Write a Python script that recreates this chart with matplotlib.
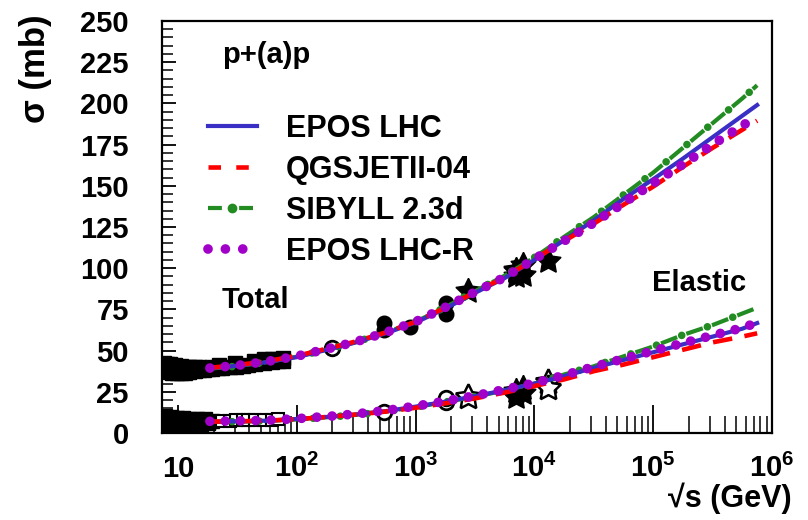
import matplotlib
matplotlib.use('Agg')
import matplotlib.pyplot as plt
from matplotlib.lines import Line2D
from matplotlib.ticker import FixedLocator, NullFormatter

plt.rcParams['lines.scale_dashes'] = False
plt.rcParams['font.family'] = ['Liberation Sans', 'DejaVu Sans']
plt.rcParams['font.weight'] = 'bold'
plt.rcParams['mathtext.fontset'] = 'custom'
plt.rcParams['mathtext.rm'] = 'Liberation Sans:bold'
plt.rcParams['mathtext.bf'] = 'Liberation Sans:bold'
plt.rcParams['mathtext.it'] = 'Liberation Sans:bold'

# ---------------- model curves ----------------
sqrt_s_model = [18.6, 31.6, 56.2, 100, 200, 316, 562, 1000, 1778, 3162, 5623,
                10000, 17783, 31623, 56234, 100000, 177828, 316228, 562341, 750000]
epos_tot = [39.3, 40.8, 43.0, 46.0, 51.3, 55.0, 60.5, 67.0, 75.5, 85.0, 94.0,
            105.0, 117.0, 129.0, 142.0, 154.0, 166.5, 179.5, 192.5, 199.0]
qgs_tot = [39.6, 41.2, 43.6, 46.8, 52.0, 55.6, 61.0, 67.5, 76.0, 85.5, 94.5,
           105.5, 116.5, 127.0, 138.5, 149.5, 161.5, 173.0, 184.0, 189.5]
sib_tot = [39.0, 40.6, 43.0, 46.3, 51.5, 55.2, 61.0, 67.5, 76.3, 86.0, 95.5,
           106.5, 119.0, 131.0, 144.5, 158.0, 173.0, 188.0, 203.0, 211.0]
eposr_tot = [39.4, 41.0, 43.4, 46.6, 51.8, 55.4, 61.0, 67.5, 76.2, 85.5, 94.5,
             105.5, 116.5, 127.5, 139.5, 151.5, 163.0, 175.0, 186.5, 192.0]

epos_el = [6.9, 7.1, 7.5, 8.5, 10.0, 11.3, 13.3, 16.0, 19.0, 22.3, 26.0,
           30.0, 34.5, 39.5, 44.3, 49.0, 53.8, 58.5, 63.3, 66.7]
qgs_el = [6.9, 7.1, 7.5, 8.4, 10.0, 11.2, 13.0, 15.3, 18.0, 21.0, 24.5,
          28.5, 32.5, 37.5, 41.5, 46.0, 50.5, 55.0, 58.5, 60.5]
sib_el = [6.7, 6.9, 7.3, 8.2, 9.8, 11.0, 13.0, 15.7, 18.8, 22.0, 25.8,
          30.0, 35.5, 40.5, 46.5, 52.5, 59.5, 65.5, 72.5, 76.0]
eposr_el = [7.1, 7.3, 7.7, 8.7, 10.3, 11.6, 13.6, 16.3, 19.3, 22.6, 26.4,
            30.3, 35.0, 40.2, 45.0, 49.8, 54.5, 59.2, 63.8, 67.0]

# ---------------- data points ----------------
# total, filled squares (low energy pp and pbar-p)
tot_sq_x = [7.6, 8.0, 8.5, 9.0, 9.8, 10.6, 11.5, 12.3, 13.8, 15.1, 16.6, 18.0,
            19.4, 21.7, 23.5, 27.4, 30.6, 35.0, 38.8, 44.7, 52.8, 62.5, 70.0, 76.0]
tot_sq_y = [38.0, 37.5, 37.0, 36.7, 36.4, 36.4, 36.6, 37.0, 37.5, 38.0, 38.4, 38.7,
            38.9, 39.2, 39.5, 40.0, 40.3, 40.8, 41.2, 41.8, 42.4, 43.0, 43.5, 43.8]
tot_sq2_x = [7.6, 8.1, 8.6, 9.5, 10.6, 11.5, 12.3, 13.8, 15.1, 19.4, 22.0, 30.4,
             44.0, 52.6, 62.3, 70.0, 76.0]
tot_sq2_y = [42.5, 42.0, 41.6, 41.0, 40.5, 40.2, 40.0, 39.8, 39.8, 40.3, 41.0, 42.3,
             43.8, 44.6, 45.0, 45.2, 45.4]
# elastic, filled squares
el_sq_x = [7.6, 8.0, 8.5, 9.0, 9.8, 10.6, 11.5, 12.3, 13.8, 15.1, 16.6, 18.0,
           19.4, 7.8, 8.8, 9.9, 11.0, 12.6, 14.5, 16.8]
el_sq_y = [8.0, 7.8, 7.6, 7.5, 7.3, 7.2, 7.1, 7.0, 7.0, 6.9, 6.9, 6.9,
           7.0, 10.2, 9.8, 9.4, 9.0, 8.7, 8.4, 8.2]
el_sq2_x = [7.7, 8.6, 9.6, 10.8, 12.0, 13.5, 15.5, 18.0]
el_sq2_y = [4.5, 4.6, 4.6, 4.8, 5.0, 5.2, 5.5, 5.8]
# elastic, open squares
el_osq_x = [23.5, 27.4, 30.6, 35.0, 38.8, 44.7, 52.8, 62.5, 70.0]
el_osq_y = [7.4, 7.5, 7.6, 7.7, 7.8, 7.9, 8.0, 8.1, 8.2]

# total: circles
tot_fc_x = [546, 546, 900, 1800, 1800]
tot_fc_y = [62.5, 67.0, 64.5, 79.0, 72.0]
tot_oc_x = [200]
tot_oc_y = [51.5]
# total: filled stars
tot_st_x = [2760, 7000, 7000, 7000, 8000, 8000, 13000]
tot_st_y = [86.0, 98.6, 99.1, 95.4, 101.7, 96.1, 104.5]

# elastic: open circles
el_oc_x = [546, 1800, 1800]
el_oc_y = [12.8, 19.0, 21.5]
# elastic: filled stars
el_fst_x = [7000, 7000, 8000, 8000]
el_fst_y = [25.4, 22.0, 27.1, 24.0]
# elastic: open stars
el_ost_x = [2760, 13000, 13000]
el_ost_y = [21.8, 31.0, 27.3]

# ticks
y_ticks = [0, 25, 50, 75, 100, 125, 150, 175, 200, 225, 250]
x_ticks = [10, 100, 1000, 10000, 100000, 1000000]
x_tick_labels = ['10', r'$\mathbf{10^{2}}$', r'$\mathbf{10^{3}}$', r'$\mathbf{10^{4}}$',
                 r'$\mathbf{10^{5}}$', r'$\mathbf{10^{6}}$']

# ---------------- figure ----------------
fig = plt.figure(figsize=(8.08, 5.2), dpi=100)
W, H = 808.0, 520.0
ax = fig.add_axes([162 / W, 87 / H, 610 / W, 412 / H])
ax.set_xscale('log')
ax.set_xlim(7.35, 1.0e6)
ax.set_ylim(0, 250)

star = (5, 1, 0)
sq_kw = dict(ls='none', marker='s', ms=10.5, color='black', zorder=2)
ax.plot(tot_sq_x, tot_sq_y, **sq_kw)
ax.plot(tot_sq2_x, tot_sq2_y, **sq_kw)
ax.plot(el_sq_x, el_sq_y, **sq_kw)
ax.plot(el_sq2_x, el_sq2_y, **sq_kw)
ax.plot(el_osq_x, el_osq_y, ls='none', marker='s', ms=9, mfc='white', mec='black',
        mew=1.5, zorder=2)
ax.plot(tot_fc_x, tot_fc_y, ls='none', marker='o', ms=10.5, color='black', zorder=2)
ax.plot(tot_oc_x, tot_oc_y, ls='none', marker='o', ms=10.5, mfc='white', mec='black',
        mew=2, zorder=2)
ax.plot(tot_st_x, tot_st_y, ls='none', marker=star, ms=19, color='black', zorder=2)
ax.plot(el_oc_x, el_oc_y, ls='none', marker='o', ms=10.5, mfc='white', mec='black',
        mew=2, zorder=2)
ax.plot(el_fst_x, el_fst_y, ls='none', marker=star, ms=19, color='black', zorder=2)
ax.plot(el_ost_x, el_ost_y, ls='none', marker=star, ms=19, mfc='white', mec='black',
        mew=1.8, zorder=2)

c_blue = '#3a2fc4'
c_red = '#ff0000'
c_green = '#228b22'
c_purple = '#a000c8'

for tot, el, kind in [(sib_tot, sib_el, 'sib'), (epos_tot, epos_el, 'epos'),
                      (qgs_tot, qgs_el, 'qgs'), (eposr_tot, eposr_el, 'eposr')]:
    for yv in (tot, el):
        if kind == 'epos':
            ax.plot(sqrt_s_model, yv, color=c_blue, lw=3, zorder=3)
        elif kind == 'qgs':
            ax.plot(sqrt_s_model, yv, color=c_red, lw=3.3, ls=(0, (14, 9)),
                    dash_capstyle='butt', zorder=4)
        elif kind == 'sib':
            ax.plot(sqrt_s_model, yv, color=c_green, lw=3, ls=(0, (12.5, 7)),
                    dash_capstyle='butt', zorder=3)
            ax.plot(sqrt_s_model, yv, color=c_green, lw=5.5, ls=(3.5, (0.01, 19.49)),
                    dash_capstyle='round', zorder=3)
        else:
            ax.plot(sqrt_s_model, yv, color=c_purple, lw=7, ls=(0, (0.01, 11.0)),
                    dash_capstyle='round', zorder=5)

# legend proxies
h_epos = Line2D([], [], color=c_blue, lw=3)
h_qgs = Line2D([], [], color=c_red, lw=3.3, ls=(0, (9, 11)))
h_sib = Line2D([], [], color=c_green, lw=3, ls=(0, (10, 12.4)), marker='o', ms=6,
               mfc=c_green, mec=c_green)
h_eposr = Line2D([], [], color=c_purple, lw=7, ls=(0, (0.01, 12.5)),
                 dash_capstyle='round')
leg = ax.legend([h_epos, h_qgs, h_sib, h_eposr],
                ['EPOS LHC', 'QGSJETII-04', 'SIBYLL 2.3d', 'EPOS LHC-R'],
                loc='upper left', bbox_to_anchor=((208 - 162) / 610, (433 - 114) / 412),
                frameon=False, fontsize=22, handlelength=1.6, handletextpad=0.95,
                labelspacing=0.36, borderpad=0, borderaxespad=0, numpoints=1)

# ticks
ax.yaxis.set_major_locator(FixedLocator(y_ticks))
ax.yaxis.set_minor_locator(FixedLocator([v for v in range(0, 251, 5)]))
ax.set_yticklabels([str(v) for v in y_ticks])
minor_x = []
for dec in [1, 10, 100, 1000, 10000, 100000]:
    for m in range(2, 10):
        minor_x.append(m * dec)
ax.xaxis.set_minor_locator(FixedLocator(minor_x))
ax.xaxis.set_minor_formatter(NullFormatter())
ax.set_xticks(x_ticks, x_tick_labels, va='baseline')

ax.tick_params(axis='y', which='major', direction='in', length=10, width=1.3,
               labelsize=21, pad=24, left=True, right=False)
ax.tick_params(axis='y', which='minor', direction='in', length=8, width=1.1,
               left=True, right=False)
ax.tick_params(axis='x', which='major', direction='in', length=20, width=1.3,
               labelsize=21, pad=32, bottom=True, top=False)
ax.tick_params(axis='x', which='minor', direction='in', length=12, width=1.1,
               bottom=True, top=False)
for s in ax.spines.values():
    s.set_linewidth(1.6)

fig.text(36 / W, 1 - 14 / H, 'σ (mb)', rotation=90, ha='center', va='top', fontsize=25)
fig.text(792 / W, 1 - 498 / H, '√s (GeV)', ha='right', va='center', fontsize=22)
fig.text(222 / W, 1 - 55 / H, 'p+(a)p', ha='left', va='center', fontsize=21)
fig.text(222 / W, 1 - 300 / H, 'Total', ha='left', va='center', fontsize=21)
fig.text(652 / W, 1 - 283 / H, 'Elastic', ha='left', va='center', fontsize=21)

fig.savefig('out.png', dpi=100)
